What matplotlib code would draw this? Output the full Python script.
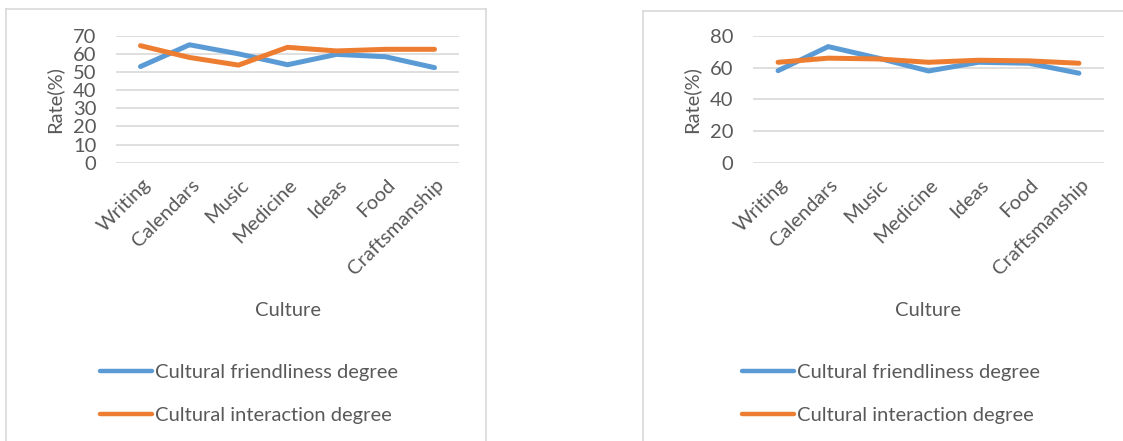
import matplotlib
matplotlib.use("Agg")
import matplotlib.pyplot as plt
from matplotlib.lines import Line2D
import matplotlib.transforms as mtransforms

plt.rcParams['font.family'] = ['Lato', 'DejaVu Sans']

# data
categories = ["Writing", "Calendars", "Music", "Medicine", "Ideas", "Food", "Craftsmanship"]
left_friendliness = [53, 65, 60, 54, 59.7, 58.4, 52.4]
left_interaction = [64.5, 58, 53.8, 63.6, 61.6, 62.5, 62.5]
right_friendliness = [58.1, 73.3, 66, 57.9, 63.4, 62.8, 56.5]
right_interaction = [63.4, 66, 65.5, 63.4, 64.7, 64.3, 62.8]
series_names = ["Cultural friendliness degree", "Cultural interaction degree"]

BLUE = "#5B9BD5"
ORANGE = "#ED7D31"
GRID = "#D9D9D9"
TEXT = "#595959"
FS = 14.5

W, H = 1123, 441
fig = plt.figure(figsize=(W / 100, H / 100), dpi=100)


def fx(px):
    return px / W


def fy(py):
    return 1 - py / H


# panel borders (chart area frames)
def frame_line(x0, y0, x1, y1):
    fig.add_artist(Line2D([fx(x0), fx(x1)], [fy(y0), fy(y1)], color=GRID, lw=1.2,
                          transform=fig.transFigure))


frame_line(6, 9, 486, 9)
frame_line(6, 9, 6, 441)
frame_line(486, 9, 486, 441)
frame_line(643, 10.5, 1123, 10.5)
frame_line(643, 10.5, 643, 441)


def make_panel(rect, friendly, interact, ymax, ystep, leg_x):
    ax = fig.add_axes(rect)
    x = range(len(categories))
    ax.plot(x, friendly, color=BLUE, lw=3.6, solid_capstyle='round', zorder=3)
    ax.plot(x, interact, color=ORANGE, lw=3.6, solid_capstyle='round', zorder=3)
    ax.set_xlim(-0.5, len(categories) - 0.5)
    ax.set_ylim(0, ymax)
    ax.set_yticks(range(0, ymax + 1, ystep))
    ax.set_xticks(list(x))
    ax.set_xticklabels(categories, rotation=45, ha='right', va='center',
                       rotation_mode='anchor')
    ax.grid(axis='y', color=GRID, lw=1.2)
    ax.set_axisbelow(True)
    for s in ax.spines.values():
        s.set_visible(False)
    ax.tick_params(axis='both', length=0, colors=TEXT, labelsize=FS)
    ax.tick_params(axis='y', pad=14)
    ax.tick_params(axis='x', pad=14)
    offset = mtransforms.ScaledTranslation(7 / 100, 0, fig.dpi_scale_trans)
    for lab in ax.get_xticklabels():
        lab.set_transform(lab.get_transform() + offset)
    ax.set_ylabel("Rate(%)", color=TEXT, fontsize=FS, labelpad=7)
    ax.set_xlabel("Culture", color=TEXT, fontsize=FS, labelpad=17)
    handles = [Line2D([], [], color=BLUE, lw=3.2, solid_capstyle='round'),
               Line2D([], [], color=ORANGE, lw=3.2, solid_capstyle='round')]
    fig.legend(handles, series_names, loc='upper left',
               bbox_to_anchor=(fx(leg_x), fy(364)), frameon=False,
               fontsize=FS, labelcolor=TEXT, handlelength=2.6,
               handletextpad=0.12, labelspacing=1.3, borderpad=0,
               borderaxespad=0)
    return ax


make_panel([fx(116), fy(162.7), fx(459) - fx(116), fy(35.7) - fy(162.7)],
           left_friendliness, left_interaction, 70, 10, 100)
make_panel([fx(753), fy(162.7), fx(1104) - fx(753), fy(36) - fy(162.7)],
           right_friendliness, right_interaction, 80, 20, 742)

fig.savefig("out.png", dpi=100)
